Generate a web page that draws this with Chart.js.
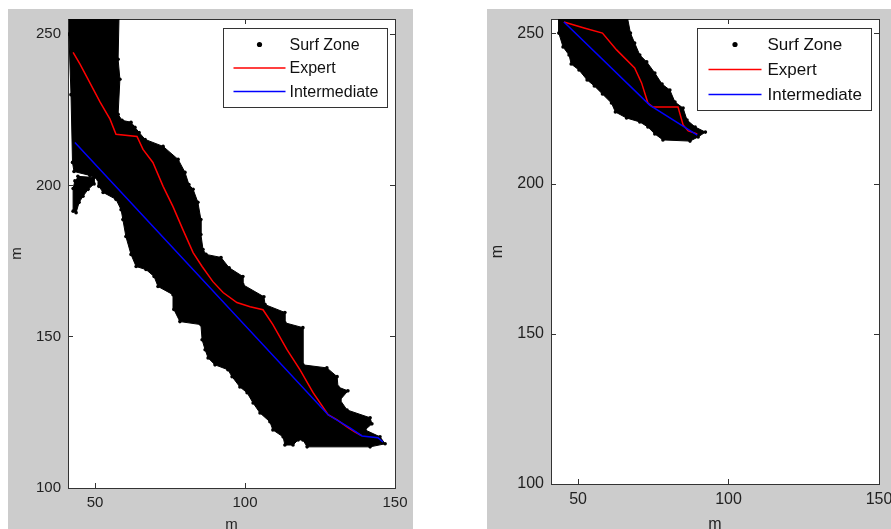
<!DOCTYPE html>
<html lang="en">
<head>
<meta charset="UTF-8">
<title>Surf Zone routes</title>
<script src="https://cdn.jsdelivr.net/npm/chart.js"></script>
<style>
    html, body { margin: 0; padding: 0; background: #fff; width: 891px; height: 529px; overflow: hidden; }
    .fig { position: absolute; top: 9px; background: #cccccc; }
    #leftFig { left: 8px; width: 405px; height: 530px; }
    #rightFig { left: 487px; width: 420px; height: 530px; }
</style>
</head>
<body>
<div class="fig" id="leftFig"><canvas id="leftChart" width="405" height="530"></canvas></div>
<div class="fig" id="rightFig"><canvas id="rightChart" width="420" height="530"></canvas></div>

<script>
    const xTicks = [50, 100, 150];
    const yTicks = [100, 150, 200, 250];

    // left panel: outline of the surf zone cloud
    const leftZoneX = [41.3, 58, 57.7, 58.3, 57.7, 59, 62, 63.3, 64.7, 66.7, 72.7, 77.7, 80, 81.3, 82.7, 84.3, 85.3, 85.3, 86, 87,
        92, 94.7, 99.3, 99.3, 106.3, 106.7, 113.3, 113.3, 119.3, 119.3, 127.3, 130.7, 131, 134.3, 131.7, 134, 141.7, 142.3, 140, 145,
        146.7, 141.7, 120.7, 119.3, 117.7, 116, 113.3, 112.7, 109.3, 108.3, 105, 102.7, 100.7, 98.3, 95.7, 94.3, 90, 87.7, 86.7, 85.7,
        85.3, 78.3, 76.3, 76, 71, 69.7, 67, 63.7, 62, 60.3, 59.3, 58.7, 57, 52.7, 51.3, 51, 48.3, 43, 42.5, 42, 41.3];
    const leftZoneY = [255.5, 255.5, 241.7, 235.1, 223.5, 221.5, 220.9, 219.2, 217.5, 215.2, 212.9, 208.6, 204.3, 200.3, 198.7, 194.4, 188.7, 183.8, 178.8, 177.2,
        176.2, 172.8, 169.9, 167.2, 163.2, 160.6, 158, 154.6, 153, 140.7, 139.7, 136.8, 133.4, 132.1, 129.1, 125.8, 123.2, 121.2, 119.2, 116.9,
        114.6, 113.6, 113.6, 115.9, 115.9, 114.2, 114.2, 116.9, 119.2, 121.9, 124.8, 128.1, 131.5, 133.4, 136.8, 139.1, 140.7, 143, 145.7, 149,
        154, 155, 159, 163.9, 166.6, 169.9, 172.2, 173.2, 177.2, 183.1, 188.7, 192, 195.4, 197.7, 199.7, 202, 203.3, 204.6, 207.6, 230, 250];
    const leftBlobX = [44.3, 49.7, 49.7, 47.7, 46, 44.7, 43.7, 42.7, 42.7, 43.3];
    const leftBlobY = [203, 202.6, 200.5, 198.7, 196.4, 194.4, 191, 191.5, 199, 201.5];

    const leftExpertX = [42.7, 45, 47.3, 51.7, 55, 57, 64, 66, 69.3, 72.7, 76, 79.3, 82.7, 85.7, 89.3, 92.7, 97.3, 101.7, 106,
        109.3, 114, 118.3, 122.7, 127.7, 130.7, 134, 136.7, 138.8];
    const leftExpertY = [244, 240.1, 235.8, 227.5, 221.9, 216.9, 216.2, 211.9, 207.6, 199.7, 193, 185.4, 177.8, 173.2, 168.2, 164.6, 161.3, 159.9, 158.9,
        154, 145.7, 139.1, 131.5, 124.2, 122.5, 120.2, 118.5, 117.3];
    const leftInterX = [43.3, 127.7, 135, 139, 144.3, 146];
    const leftInterY = [214.2, 124.2, 119.9, 117.2, 116.6, 115.2];

    // right panel
    const rightZoneX = [43.6, 43.6, 45, 47, 47.7, 50.3, 53, 55.4, 58.1, 61.1, 62.4, 66.1, 70.5, 73.2, 75.5, 78.2, 87.2, 89.9, 92.3,
        88.9, 86.2, 84.9, 82.2, 80.5, 77.9, 75.5, 72.8, 70.5, 68.8, 67.4, 66.4];
    const rightZoneY = [255.5, 250.3, 245.7, 243, 240, 238, 234.7, 232.7, 230, 227, 224, 222, 220.7, 219, 216.7, 214.7, 214.3, 215.7, 217.3,
        219, 221.3, 225.3, 227.3, 231.3, 233.3, 237, 240.7, 243, 247, 250.3, 255.5];
    const rightExpertX = [45.3, 52, 58.1, 62.8, 68.8, 71.1, 73.2, 74.8, 83.2, 84.9, 86.6, 89.6];
    const rightExpertY = [254, 252, 250.3, 244.7, 238.7, 233.7, 227, 225.7, 225.7, 219.7, 217.7, 216.7];
    const rightInterX = [45.3, 73.8, 89.6];
    const rightInterY = [254, 226.3, 216.3];

    const FONT = '"Liberation Sans", Arial, sans-serif';

    function pts(xs, ys) {
        return xs.map((x, i) => ({ x: x, y: ys[i] }));
    }

    function zoneSet(label, xs, ys) {
        return {
            label: label, data: pts(xs, ys), xAxisID: 'x', yAxisID: 'y',
            fill: 'shape', backgroundColor: '#000', borderColor: '#000', borderWidth: 1,
            pointRadius: 1.8, pointBackgroundColor: '#000', pointBorderWidth: 0,
            tension: 0, clip: 0, order: 2, legendMark: 'point'
        };
    }

    function routeSet(label, xs, ys, color, order) {
        return {
            label: label, data: pts(xs, ys), xAxisID: 'x', yAxisID: 'y',
            fill: false, borderColor: color, borderWidth: 1.5, pointRadius: 0,
            tension: 0, clip: 0, order: order, legendMark: 'line'
        };
    }

    // MATLAB style box: inward ticks on all four sides
    function buildScales(size, yWidth, xHeight, yTitlePad) {
        const font = { family: FONT, size: size };
        const border = { display: true, color: '#333', width: 1 };
        const grid = { drawOnChartArea: false, tickLength: -5, color: '#333', lineWidth: 1 };
        const setTicks = values => scale => { scale.ticks = values.map(v => ({ value: v })); };
        const fitX = h => s => { s.height = h; s.paddingLeft = 0; s.paddingRight = 0; };
        const fitY = w => s => { s.width = w; s.paddingTop = 0; s.paddingBottom = 0; };
        return {
            x: {
                type: 'linear', axis: 'x', position: 'bottom', min: 41, max: 150, z: 1,
                border: border, grid: grid, afterBuildTicks: setTicks(xTicks),
                ticks: { font: font, color: '#222', padding: 11, maxRotation: 0, autoSkip: false },
                title: { display: true, text: 'm', font: font, color: '#222', padding: { top: 0, bottom: 5 } },
                afterFit: fitX(xHeight)
            },
            xTop: {
                type: 'linear', axis: 'x', position: 'top', min: 41, max: 150, z: 1,
                border: border, grid: grid, afterBuildTicks: setTicks(xTicks),
                ticks: { display: false },
                afterFit: fitX(0)
            },
            y: {
                type: 'linear', axis: 'y', position: 'left', min: 100, max: 255, z: 1,
                border: border, grid: grid, afterBuildTicks: setTicks(yTicks),
                ticks: { font: font, color: '#222', padding: 12, autoSkip: false },
                title: { display: true, text: 'm', font: font, color: '#222', padding: { top: yTitlePad, bottom: 0 } },
                afterFit: fitY(yWidth)
            },
            yRight: {
                type: 'linear', axis: 'y', position: 'right', min: 100, max: 255, z: 1,
                border: border, grid: grid, afterBuildTicks: setTicks(yTicks),
                ticks: { display: false },
                afterFit: fitY(0)
            }
        };
    }

    // white plot area on the grey figure
    const plotBackground = {
        id: 'plotBackground',
        beforeDraw(chart) {
            const a = chart.chartArea;
            chart.ctx.save();
            chart.ctx.fillStyle = '#fff';
            chart.ctx.fillRect(a.left, a.top, a.right - a.left, a.bottom - a.top);
            chart.ctx.restore();
        }
    };

    const boxLegend = {
        id: 'boxLegend',
        afterDraw(chart, args, opts) {
            const ctx = chart.ctx;
            const area = chart.chartArea;
            const items = chart.data.datasets.filter(ds => ds.label);
            ctx.save();
            ctx.font = opts.size + 'px ' + FONT;
            const textW = Math.max(...items.map(ds => ctx.measureText(ds.label).width));
            const w = Math.round(opts.textX + textW + opts.padRight);
            const h = Math.round(opts.first * 2 + opts.rowGap * (items.length - 1));
            const left = Math.round(area.right - opts.right - w) + 0.5;
            const top = Math.round(area.top + opts.top) + 0.5;
            ctx.fillStyle = '#fff';
            ctx.fillRect(left, top, w, h);
            ctx.strokeStyle = '#333';
            ctx.lineWidth = 1;
            ctx.strokeRect(left, top, w, h);
            items.forEach((ds, i) => {
                const y = top + opts.first + i * opts.rowGap;
                if (ds.legendMark === 'line') {
                    ctx.strokeStyle = ds.borderColor;
                    ctx.lineWidth = 1.5;
                    ctx.beginPath();
                    ctx.moveTo(left + opts.lineFrom, y);
                    ctx.lineTo(left + opts.lineTo, y);
                    ctx.stroke();
                } else {
                    ctx.fillStyle = '#000';
                    ctx.beginPath();
                    ctx.arc(left + (opts.lineFrom + opts.lineTo) / 2, y, 2.6, 0, Math.PI * 2);
                    ctx.fill();
                }
                ctx.fillStyle = '#111';
                ctx.textBaseline = 'middle';
                ctx.textAlign = 'left';
                ctx.fillText(ds.label, left + opts.textX, y + 1);
            });
            ctx.restore();
        }
    };

    function makeChart(id, datasets, scales, padRight, legendOpts) {
        return new Chart(document.getElementById(id), {
            type: 'line',
            data: { datasets: datasets },
            options: {
                responsive: false,
                animation: false,
                events: [],
                layout: { padding: { left: 0, top: 10, right: padRight, bottom: 0 } },
                scales: scales,
                plugins: {
                    legend: { display: false },
                    tooltip: { enabled: false },
                    boxLegend: legendOpts
                }
            },
            plugins: [plotBackground, boxLegend]
        });
    }

    makeChart('leftChart', [
        zoneSet('Surf Zone', leftZoneX, leftZoneY),
        zoneSet('', leftBlobX, leftBlobY),
        routeSet('Expert', leftExpertX, leftExpertY, '#ff0000', 1),
        routeSet('Intermediate', leftInterX, leftInterY, '#0000ff', 0)
    ], buildScales(15, 60, 51, 0), 18,
        { size: 16, right: 8, top: 9, lineFrom: 10, lineTo: 62, textX: 66, padRight: 9, first: 16, rowGap: 23.5 });

    makeChart('rightChart', [
        zoneSet('Surf Zone', rightZoneX, rightZoneY),
        routeSet('Expert', rightExpertX, rightExpertY, '#ff0000', 1),
        routeSet('Intermediate', rightInterX, rightInterY, '#0000ff', 0)
    ], buildScales(16, 64, 55, 1), 28,
        { size: 17, right: 8, top: 9, lineFrom: 11, lineTo: 64, textX: 70, padRight: 10, first: 16, rowGap: 25 });
</script>
</body>
</html>
